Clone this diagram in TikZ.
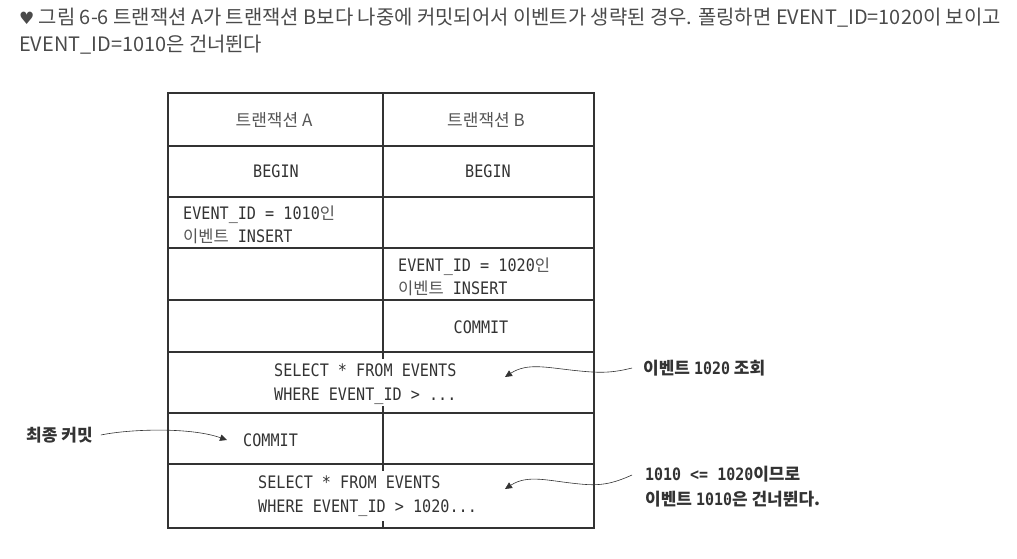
\documentclass[tikz,border=0pt]{standalone}
\usepackage{fontspec}
\setmainfont{Noto Sans CJK KR}
\newfontfamily\monofont[FakeStretch=0.88]{DejaVu Sans Mono}
\newfontfamily\symfont{DejaVu Sans}
\usetikzlibrary{arrows.meta}
\definecolor{ink}{HTML}{333333}
\definecolor{cap}{HTML}{4A4A4A}
\definecolor{soft}{HTML}{555555}
\newcommand\kr[1]{{\rmfamily\fontsize{16.5}{23.5}\selectfont\color{soft}#1}}
\newcommand\mn[1]{{\monofont\fontsize{17}{25}\selectfont#1}}
\tikzset{
  cell/.style={font=\fontsize{17.2}{23.5}\selectfont\monofont,text=ink,inner sep=0pt,align=left},
  head/.style={font=\fontsize{17}{20}\selectfont,text=soft,inner sep=0pt},
  note/.style={font=\fontsize{17}{25}\selectfont\bfseries,text=ink,inner sep=0pt,align=left},
  callout/.style={draw=ink,line width=.6pt,-{Triangle[width=6.5pt,length=7pt]}},
  rule/.style={draw=ink,line width=1.1pt},
}
\begin{document}
\begin{tikzpicture}[x=1pt,y=-1pt]
\useasboundingbox(0,0)rectangle(1017,558);
% caption
\node[anchor=west,inner sep=0pt,text=cap,font=\fontsize{19.9}{27}\selectfont,align=left](title)at(19,31.5){{\symfont\fontsize{17}{27}\selectfont♥} 그림 6-6 트랜잭션 A가 트랜잭션 B보다 나중에 커밋되어서 이벤트가 생략된 경우. 폴링하면 EVENT\_ID=1020이 보이고\\EVENT\_ID=1010은 건너뛴다};
% table grid
\draw[rule](168,93)rectangle(594,528);
\foreach \y in {146,197,248,300,352,413,464}\draw[rule](168,\y)--(594,\y);
\draw[rule](383,93)--(383,352)(383,413)--(383,464);
\foreach \a/\b in {352/359,406/413,464/471,521/528}\draw[rule](383,\a)--(383,\b);
% cells
\node[head](hA)at(274,120){트랜잭션 A};
\node[head](hB)at(486,120){트랜잭션 B};
\node[cell](bA)at(276,171){BEGIN};
\node[cell](bB)at(488,171){BEGIN};
\node[cell,anchor=west](insA)at(183,225){EVENT\_ID = 1010\kr{인}\\\kr{이벤트} INSERT};
\node[cell,anchor=west](insB)at(398,277){EVENT\_ID = 1020\kr{인}\\\kr{이벤트} INSERT};
\node[cell](cB)at(481,327){COMMIT};
\node[cell,anchor=west](sel1)at(274,384){SELECT * FROM EVENTS\\WHERE EVENT\_ID > ...};
\node[cell,anchor=west](cA)at(243,440){COMMIT};
\node[cell,anchor=west](sel2)at(258,496){SELECT * FROM EVENTS\\WHERE EVENT\_ID > 1020...};
% notes
\node[note,anchor=west](n1)at(643,368){이벤트 \mn{1020} 조회};
\node[note,anchor=west](n2)at(645,487){\mn{1010 <= 1020}이므로\\이벤트 \mn{1010}은 건너뛴다.};
\node[note,anchor=west](n3)at(26,435){최종 커밋};
\coordinate(t1)at(505,377);
\coordinate(t2)at(505,489);
\coordinate(t3)at(227,440);
\draw[callout]([xshift=-11pt]n1.west)..controls(612,373)and(600,373)..(580,371)..controls(548,368)and(528,362)..(t1);
\draw[callout]([shift={(-13,-12)}]n2.west)..controls(612,484)and(600,486)..(580,484)..controls(548,481)and(528,474)..(t2);
\draw[callout]([xshift=8pt]n3.east)..controls(130,429)and(190,427)..(t3);
\end{tikzpicture}
\end{document}
